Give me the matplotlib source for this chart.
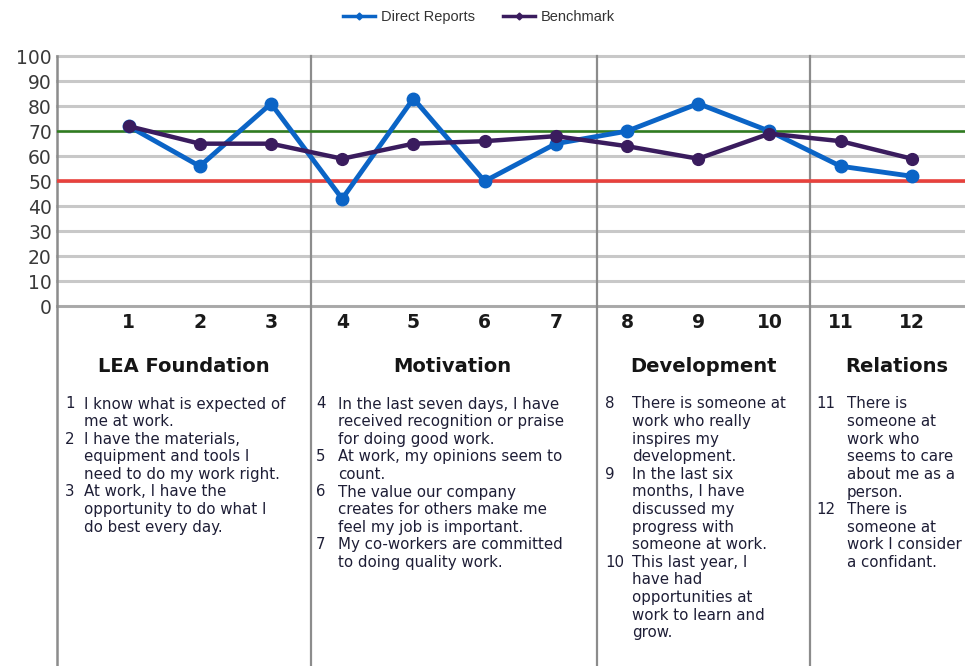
import matplotlib
matplotlib.use("Agg")
import matplotlib.pyplot as plt
from matplotlib.lines import Line2D

# survey results per question
questions = list(range(1, 13))
direct_reports = [72, 56, 81, 43, 83, 50, 65, 70, 81, 70, 56, 52]
benchmark = [72, 65, 65, 59, 65, 66, 68, 64, 59, 69, 66, 59]
target_line = 70
warning_line = 50

group_names = ["LEA Foundation", "Motivation", "Development", "Relations"]
group_breaks = [3.56, 7.58, 10.57]

lea_items = [
    ("1", ["I know what is expected of", "me at work."]),
    ("2", ["I have the materials,", "equipment and tools I", "need to do my work right."]),
    ("3", ["At work, I have the", "opportunity to do what I", "do best every day."]),
]
motivation_items = [
    ("4", ["In the last seven days, I have", "received recognition or praise", "for doing good work."]),
    ("5", ["At work, my opinions seem to", "count."]),
    ("6", ["The value our company", "creates for others make me", "feel my job is important."]),
    ("7", ["My co-workers are committed", "to doing quality work."]),
]
development_items = [
    ("8", ["There is someone at", "work who really", "inspires my", "development."]),
    ("9", ["In the last six", "months, I have", "discussed my", "progress with", "someone at work."]),
    ("10", ["This last year, I", "have had", "opportunities at", "work to learn and", "grow."]),
]
relations_items = [
    ("11", ["There is", "someone at", "work who", "seems to care", "about me as a", "person."]),
    ("12", ["There is", "someone at", "work I consider", "a confidant."]),
]
group_items = [lea_items, motivation_items, development_items, relations_items]

W, H = 965, 666
fig = plt.figure(figsize=(W / 100, H / 100), dpi=100)


def fx(px):
    return px / W


def fy(py):
    return 1 - py / H


ax = fig.add_axes([fx(57.4), fy(306.5), 1 - fx(57.4), fy(56) - fy(306.5)])
ax.set_xlim(0, (W - 57.4) / 71.2)
ax.set_ylim(0, 100)

# horizontal grid
for v in range(0, 101, 10):
    ax.axhline(v, color="#c8c8c8", lw=2.2, zorder=1, clip_on=False)
ax.axhline(0, color="#a8a8a8", lw=2.0, zorder=1, clip_on=False)

# group separators and left axis, running down through the text area
low = -(H - 306.5) / 250.0
for b in group_breaks:
    ax.axvline(b, ymin=low, ymax=1, color="#8c8c8c", lw=1.6, clip_on=False, zorder=2)
ax.axvline(0, ymin=low, ymax=1, color="#8c8c8c", lw=1.8, clip_on=False, zorder=2)

ax.axhline(target_line, color="#2e7d1e", lw=1.8, zorder=3)
ax.axhline(warning_line, color="#e8413c", lw=2.6, zorder=3)

ax.plot(questions, benchmark, color="#3a1c5e", lw=3.2, marker="o", ms=8.5, zorder=5)
ax.plot(questions, direct_reports, color="#0b64c6", lw=3.5, marker="o", ms=9, zorder=4)

for s in ax.spines.values():
    s.set_visible(False)

ax.set_yticks(range(0, 101, 10))
ax.tick_params(axis="y", length=0, pad=4, labelsize=13.5, labelcolor="#3a3a3a")
ax.set_xticks(questions)
ax.set_xticklabels([str(q) for q in questions], fontsize=13.5, fontweight="bold", color="#1a1a1a")
ax.tick_params(axis="x", length=0, pad=5)

# legend
handles = [
    Line2D([], [], color="#0b64c6", lw=2.5, marker="D", ms=3.5),
    Line2D([], [], color="#3a1c5e", lw=2.5, marker="D", ms=3.5),
]
fig.legend(handles, ["Direct Reports", "Benchmark"], loc="center", bbox_to_anchor=(fx(479), fy(17)),
           ncol=2, frameon=False, prop={"family": "Liberation Sans", "size": 10.5},
           labelcolor="#333333", handlelength=2.2, columnspacing=1.9, handletextpad=0.4)

# group titles and question texts
title_x = [184, 452, 703, 897]
num_x = [65, 316, 605, 816]
text_x = [84, 338, 632, 847]
for g in range(4):
    fig.text(fx(title_x[g]), fy(366), group_names[g], ha="center", va="center",
             fontsize=14, fontweight="bold", color="#151515")
    k = 0
    for num, lines in group_items[g]:
        fig.text(fx(num_x[g]), fy(404 + k * 17.6), num, ha="left", va="center",
                 fontsize=10.8, color="#1e1e36")
        for line in lines:
            fig.text(fx(text_x[g]), fy(404 + k * 17.6), line, ha="left", va="center",
                     fontsize=10.8, color="#1e1e36")
            k += 1

fig.savefig("out.png", dpi=100)
